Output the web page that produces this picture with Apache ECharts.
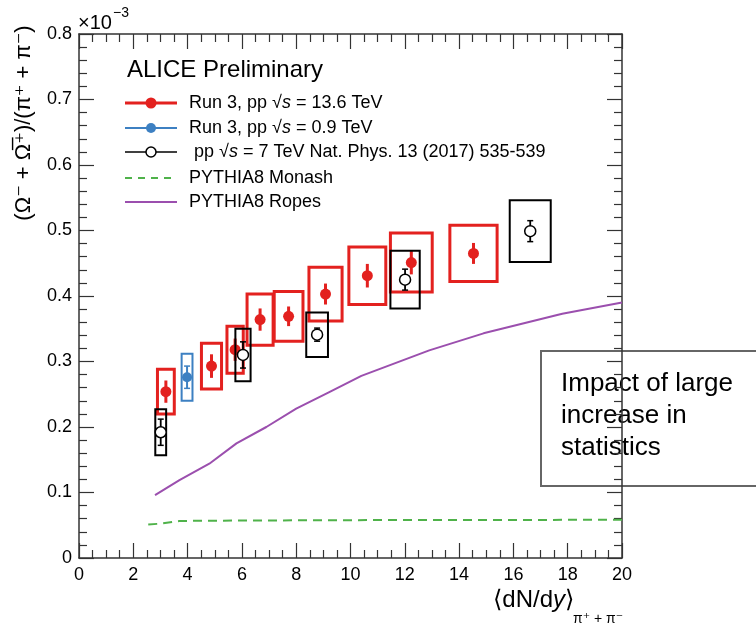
<!DOCTYPE html>
<html>
<head>
<meta charset="utf-8">
<script src="https://cdn.jsdelivr.net/npm/echarts@6/dist/echarts.min.js"></script>
<style>
  html, body { margin: 0; padding: 0; background: #fff; }
  #chart { width: 756px; height: 626px; }
</style>
</head>
<body>
<div id="chart"></div>
<script>
// Omega / pion ratio vs charged-pion multiplicity (values in units of 1e-3)

// Run 3, pp 13.6 TeV
const run3HighX    = [3.20, 4.88, 5.75, 6.67, 7.72, 9.08, 10.62, 12.24, 14.53];
const run3HighY    = [0.254, 0.293, 0.318, 0.364, 0.369, 0.403, 0.431, 0.451, 0.465];
const run3HighStat = [0.017, 0.018, 0.017, 0.017, 0.015, 0.016, 0.018, 0.018, 0.016];
const run3HighSys  = [0.034, 0.035, 0.036, 0.039, 0.038, 0.041, 0.044, 0.045, 0.043];
const run3HighXErr = [0.31, 0.37, 0.30, 0.48, 0.53, 0.61, 0.68, 0.77, 0.87];

// Run 3, pp 0.9 TeV
const run3LowX    = [3.98];
const run3LowY    = [0.276];
const run3LowStat = [0.017];
const run3LowSys  = [0.036];
const run3LowXErr = [0.20];

// pp 7 TeV, Nat. Phys. 13 (2017) 535-539
const pp7X    = [3.01, 6.04, 8.77, 12.01, 16.62];
const pp7Y    = [0.192, 0.310, 0.341, 0.425, 0.499];
const pp7Stat = [0.020, 0.020, 0.010, 0.016, 0.016];
const pp7Sys  = [0.035, 0.040, 0.034, 0.044, 0.047];
const pp7XErr = [0.20, 0.28, 0.40, 0.54, 0.755];

// PYTHIA8 predictions
const monashX = [2.55, 3.0, 3.7, 5.0, 8.0, 12.0, 16.0, 20.0];
const monashY = [0.051, 0.0525, 0.0565, 0.057, 0.0575, 0.058, 0.058, 0.0585];
const ropesX  = [2.8, 3.7, 4.8, 5.8, 6.9, 8.0, 9.2, 10.4, 12.9, 14.9, 17.8, 20.0];
const ropesY  = [0.096, 0.119, 0.144, 0.175, 0.200, 0.228, 0.253, 0.278, 0.317, 0.343, 0.373, 0.390];

// Axis ticks
const xTicks = [0, 2, 4, 6, 8, 10, 12, 14, 16, 18, 20];
const yTicks = ['0', '0.1', '0.2', '0.3', '0.4', '0.5', '0.6', '0.7', '0.8'];

const FONT = '"Liberation Sans", Arial, Helvetica, "DejaVu Sans", sans-serif';
const RED = '#e3211f', BLUE = '#3d80c2', BLACK = '#000000', GREEN = '#4fb24a', PURPLE = '#9b4fae';

function zip(xs, ys, st, sy, xe) {
  return xs.map((x, i) => [x, ys[i], st[i], sy[i], xe[i]]);
}
function pairs(xs, ys) {
  return xs.map((x, i) => [x, ys[i]]);
}

// Point with statistical bar, systematic box and marker
function pointRenderer(opts) {
  return function (params, api) {
    const x = api.value(0), y = api.value(1), st = api.value(2), sy = api.value(3), xe = api.value(4);
    const tl = api.coord([x - xe, y + sy]);
    const br = api.coord([x + xe, y - sy]);
    const top = api.coord([x, y + st]);
    const bot = api.coord([x, y - st]);
    const c = api.coord([x, y]);
    const children = [
      { type: 'rect', shape: { x: tl[0], y: tl[1], width: br[0] - tl[0], height: br[1] - tl[1] },
        style: { fill: 'none', stroke: opts.color, lineWidth: opts.boxWidth } },
      { type: 'line', shape: { x1: top[0], y1: top[1], x2: bot[0], y2: bot[1] },
        style: { stroke: opts.color, lineWidth: opts.barWidth } }
    ];
    if (opts.caps) {
      children.push(
        { type: 'line', shape: { x1: top[0] - 3, y1: top[1], x2: top[0] + 3, y2: top[1] },
          style: { stroke: opts.color, lineWidth: 1.5 } },
        { type: 'line', shape: { x1: bot[0] - 3, y1: bot[1], x2: bot[0] + 3, y2: bot[1] },
          style: { stroke: opts.color, lineWidth: 1.5 } }
      );
    }
    children.push({
      type: 'circle', shape: { cx: c[0], cy: c[1], r: opts.r },
      style: opts.open ? { fill: '#fff', stroke: opts.color, lineWidth: 1.5 } : { fill: opts.color }
    });
    return { type: 'group', children };
  };
}

const axisLineStyle = { color: '#333', width: 1.5 };
const tickStyle = { color: '#333', width: 1.2 };

function xAxisDef(pos, labels) {
  return {
    type: 'value', position: pos, min: 0, max: 20, interval: 2,
    axisLine: { show: true, onZero: false, lineStyle: axisLineStyle },
    axisTick: { show: true, inside: true, length: 15, lineStyle: tickStyle },
    minorTick: { show: true, splitNumber: 4, length: 8, lineStyle: tickStyle },
    splitLine: { show: false },
    axisLabel: {
      show: labels, color: '#000', fontSize: 18, fontFamily: FONT, margin: 8,
      formatter: v => String(xTicks[Math.round(v / 2)])
    }
  };
}
function yAxisDef(pos, labels) {
  return {
    type: 'value', position: pos, min: 0, max: 0.8, interval: 0.1,
    axisLine: { show: true, onZero: false, lineStyle: axisLineStyle },
    axisTick: { show: true, inside: true, length: 15, lineStyle: tickStyle },
    minorTick: { show: true, splitNumber: 5, length: 8, lineStyle: tickStyle },
    splitLine: { show: false },
    axisLabel: {
      show: labels, color: '#000', fontSize: 18, fontFamily: FONT, margin: 7,
      formatter: v => yTicks[Math.round(v * 10)]
    }
  };
}

// Legend drawn as graphic rows
const legendRows = [
  { y: 103, color: RED, width: 3, marker: 'fill', r: 5.5, text: 'Run 3, pp √{i|s} = 13.6 TeV' },
  { y: 128, color: BLUE, width: 2, marker: 'fill', r: 5, text: 'Run 3, pp √{i|s} = 0.9 TeV' },
  { y: 152, color: BLACK, width: 1.5, marker: 'open', r: 5, text: ' pp √{i|s} = 7 TeV Nat. Phys. 13 (2017) 535-539' },
  { y: 178, color: GREEN, width: 2, marker: null, dash: [7, 6], text: 'PYTHIA8 Monash' },
  { y: 202, color: PURPLE, width: 2, marker: null, text: 'PYTHIA8 Ropes' }
];
const legendGraphics = [];
legendRows.forEach(row => {
  legendGraphics.push({
    type: 'line', shape: { x1: 125, y1: row.y, x2: 177, y2: row.y },
    style: { stroke: row.color, lineWidth: row.width, lineDash: row.dash || null }
  });
  if (row.marker) {
    legendGraphics.push({
      type: 'circle', shape: { cx: 151, cy: row.y, r: row.r },
      style: row.marker === 'open' ? { fill: '#fff', stroke: row.color, lineWidth: 1.5 } : { fill: row.color }
    });
  }
  legendGraphics.push({
    type: 'text', x: 189, y: row.y,
    style: {
      text: row.text, fill: '#000', fontSize: 18, fontFamily: FONT,
      verticalAlign: 'middle', align: 'left',
      rich: { i: { fontStyle: 'italic', fontSize: 18, fontFamily: FONT, fill: '#000' } }
    }
  });
});

const option = {
  animation: false,
  backgroundColor: '#fff',
  grid: { left: 79, right: 134, top: 34, bottom: 68 },
  xAxis: [xAxisDef('bottom', true), xAxisDef('top', false)],
  yAxis: [yAxisDef('left', true), yAxisDef('right', false)],
  series: [
    {
      name: 'PYTHIA8 Monash', type: 'line', data: pairs(monashX, monashY), symbol: 'none',
      lineStyle: { color: GREEN, width: 2, type: [9, 6] }, z: 2
    },
    {
      name: 'PYTHIA8 Ropes', type: 'line', data: pairs(ropesX, ropesY), symbol: 'none',
      lineStyle: { color: PURPLE, width: 2 }, z: 2
    },
    {
      name: 'Run 3, pp 13.6 TeV', type: 'custom', z: 3,
      data: zip(run3HighX, run3HighY, run3HighStat, run3HighSys, run3HighXErr),
      encode: { x: 0, y: 1 },
      renderItem: pointRenderer({ color: RED, boxWidth: 3, barWidth: 3, caps: false, r: 5.5, open: false })
    },
    {
      name: 'Run 3, pp 0.9 TeV', type: 'custom', z: 4,
      data: zip(run3LowX, run3LowY, run3LowStat, run3LowSys, run3LowXErr),
      encode: { x: 0, y: 1 },
      renderItem: pointRenderer({ color: BLUE, boxWidth: 2, barWidth: 2, caps: true, r: 5, open: false })
    },
    {
      name: 'pp 7 TeV', type: 'custom', z: 5,
      data: zip(pp7X, pp7Y, pp7Stat, pp7Sys, pp7XErr),
      encode: { x: 0, y: 1 },
      renderItem: pointRenderer({ color: BLACK, boxWidth: 2, barWidth: 1.8, caps: true, r: 5.5, open: true })
    }
  ],
  graphic: [
    // axis multiplier
    { type: 'text', x: 78, y: 23, style: { text: '×10', fill: '#000', fontSize: 20, fontFamily: FONT, verticalAlign: 'middle' } },
    { type: 'text', x: 113, y: 13, style: { text: '−3', fill: '#000', fontSize: 14, fontFamily: FONT, verticalAlign: 'middle' } },
    // y-axis title
    {
      type: 'text', x: 24, y: 123, rotation: Math.PI / 2,
      style: {
        text: '(Ω⁻ + Ω\u0305⁺)/(π⁺ + π⁻)', fill: '#000', fontSize: 22, fontFamily: FONT,
        align: 'center', verticalAlign: 'middle'
      }
    },
    // x-axis title
    {
      type: 'text', x: 493, y: 600,
      style: {
        text: '⟨dN/d{i|y}⟩', fill: '#000', fontSize: 24, fontFamily: FONT, align: 'left', verticalAlign: 'middle',
        rich: { i: { fontStyle: 'italic', fontSize: 24, fontFamily: FONT, fill: '#000' } }
      }
    },
    { type: 'text', x: 573, y: 619, style: { text: 'π⁺ + π⁻', fill: '#000', fontSize: 14, fontFamily: FONT, align: 'left', verticalAlign: 'middle' } },
    // header
    { type: 'text', x: 127, y: 70, style: { text: 'ALICE Preliminary', fill: '#000', fontSize: 24, fontFamily: FONT, verticalAlign: 'middle' } },
    ...legendGraphics,
    // annotation box
    {
      type: 'group', z: 100,
      children: [
        { type: 'rect', shape: { x: 541, y: 351, width: 240, height: 135 }, style: { fill: '#fff', stroke: '#666', lineWidth: 2 } },
        { type: 'text', x: 561, y: 384, style: { text: 'Impact of large', fill: '#000', fontSize: 26, fontFamily: FONT, verticalAlign: 'middle' } },
        { type: 'text', x: 561, y: 416, style: { text: 'increase in', fill: '#000', fontSize: 26, fontFamily: FONT, verticalAlign: 'middle' } },
        { type: 'text', x: 561, y: 448, style: { text: 'statistics', fill: '#000', fontSize: 26, fontFamily: FONT, verticalAlign: 'middle' } }
      ]
    }
  ]
};

const chart = echarts.init(document.getElementById('chart'), null, { renderer: 'canvas' });
chart.setOption(option);
</script>
</body>
</html>
